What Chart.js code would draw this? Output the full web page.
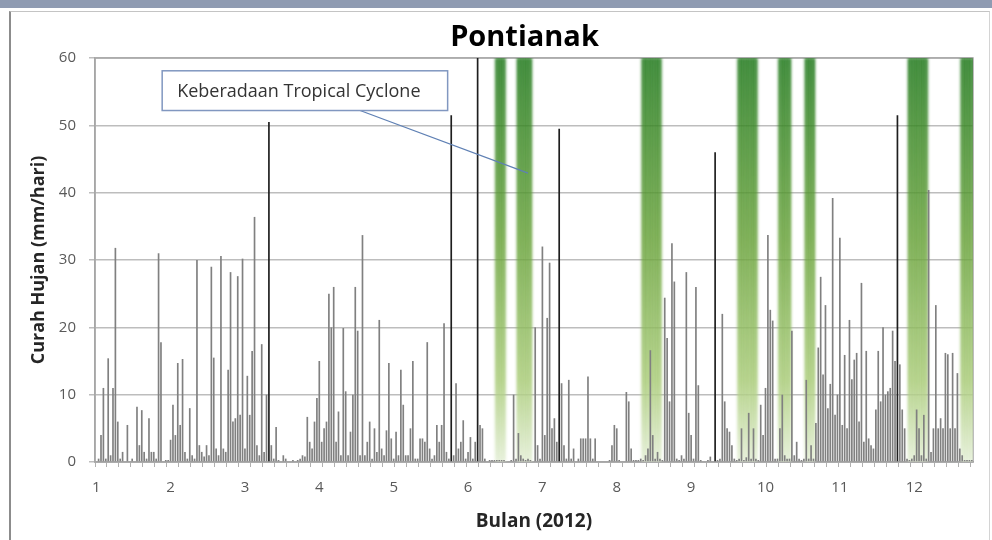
<!DOCTYPE html>
<html>
<head>
<meta charset="utf-8">
<title>Pontianak</title>
<script src="https://cdn.jsdelivr.net/npm/chart.js@4.4.1/dist/chart.umd.min.js"></script>
<style>
  html, body { margin: 0; padding: 0; background: #ffffff; }
  #wrap { position: relative; width: 992px; height: 540px; overflow: hidden; }
  #chart { position: absolute; left: 0; top: 0; }
  #topbar { position: absolute; left: 0; top: 0; width: 992px; height: 8px; background: #8f9bb2; }
  #frame { position: absolute; left: 9px; top: 11px; width: 978px; height: 540px;
           border-left: 2px solid #8c8c8c; border-top: 1px solid #c4c4c4; border-right: 1px solid #d4d4d4; }
</style>
</head>
<body>
<div id="wrap">
  <canvas id="chart" width="992" height="540"></canvas>
  <div id="topbar"></div>
  <div id="frame"></div>
</div>
<script>
// Daily rainfall at Pontianak for 2012 (mm/day), one value per day, 1 Jan .. 31 Dec
const rainfall = [
  // days 0-30
  0, 0.5, 4, 11, 0.5, 15.4, 1, 11, 31.8, 6, 0.5, 1.5, 0, 5.5, 0, 0.5, 0, 8.2, 2.5, 7.7,
  1.5, 0.5, 6.5, 1.5, 1.5, 0.5, 31, 17.8, 0, 0.3, 0.3,
  // days 31-61
  3.3, 8.5, 4, 14.7, 5.5, 15.3, 1.5, 0.5, 8, 1, 0.5, 30, 2.5, 1.5, 0.8, 2.5, 1, 29, 15.5, 2,
  1, 30.6, 2, 1.5, 13.7, 28.2, 6, 6.5, 27.6, 7, 30.2,
  // days 62-92
  2, 12.8, 7, 16.5, 36.4, 2.5, 1, 17.5, 1.5, 10, 50.5, 2.5, 0.5, 5.2, 0.3, 0, 1, 0.5, 0, 0,
  0.3, 0, 0.3, 0.5, 1, 0.8, 6.7, 3, 2, 6, 9.5,
  // days 93-123
  15, 3, 5, 6, 25, 20, 26, 3, 7.5, 1, 19.9, 10.5, 1, 4.5, 10, 26, 19.5, 1, 33.7, 1,
  3, 6, 0.5, 5, 1.5, 21.1, 2, 1, 4.7, 14.7, 3.5,
  // days 124-154
  0.5, 4.5, 1, 13.7, 8.5, 1, 1, 5, 15, 0.5, 0.5, 3.5, 3.5, 3, 17.8, 2, 0.5, 1, 5.5, 3,
  5.5, 20.6, 1.5, 0.5, 51.5, 1, 11.7, 2, 3, 6.2, 0.5,
  // days 155-185
  1.5, 3.7, 0.5, 3, 60, 5.5, 5, 0.5, 0, 0.3, 0.3, 0.3, 0.3, 0.3, 0.3, 0.3, 0, 0, 0.3, 10,
  0.5, 4.3, 1, 0.5, 0.3, 0.5, 0.3, 0, 20, 2.5, 0.5,
  // days 186-216
  32, 4, 21.4, 29.6, 5, 6.5, 3, 49.5, 11.7, 2.5, 0.5, 12.2, 0.5, 2, 0, 0.5, 3.5, 3.5, 3.5, 12.7,
  3.5, 0.5, 3.5, 0, 0, 0, 0, 0, 0.3, 2.5, 5.5,
  // days 217-247
  5, 0.3, 0, 0, 10.4, 9, 2, 0.3, 0.3, 0.3, 0.5, 0.3, 1, 2, 16.6, 4, 0.5, 1.5, 0.5, 0.3,
  24.4, 18.4, 9, 32.5, 26.8, 0.5, 0.3, 1, 0.5, 28.2, 7.3,
  // days 248-278
  4, 0.5, 26, 11.4, 0.3, 0, 0, 0.3, 0.8, 0, 46, 0.3, 0.5, 22, 9, 5, 4.5, 2.5, 0.5, 0.3,
  0.5, 5, 0.3, 0.7, 7.3, 0.5, 5, 0.5, 0.3, 8.5, 4,
  // days 279-309
  11, 33.7, 22.6, 21, 0.5, 0.5, 5, 10, 1, 0.5, 0.5, 19.5, 1, 3, 0.5, 0.3, 0.5, 12.2, 0.5, 2.5,
  0.5, 5.8, 17, 27.5, 13, 23.3, 8, 11.6, 39.2, 7, 10,
  // days 310-340
  33.3, 5.5, 15.9, 5, 21.1, 12.3, 15.2, 16.2, 6, 26.6, 3, 16.5, 3.5, 2.5, 2, 7.8, 16.5, 9, 20, 10,
  10.5, 11, 19.5, 15, 51.5, 14.5, 7.8, 5, 0.5, 0.3, 0.5,
  // days 341-365
  1, 7.8, 5, 1, 7, 0.5, 40.4, 1.5, 5, 23.3, 5, 6.5, 5, 16.2, 16, 5, 16.2, 5, 13.2, 2,
  1, 0.3, 0.3, 0.3, 0.3
];

// Periods (first day, last day, zero-based day of year) with a tropical cyclone present
const cycloneStart = [167, 176, 228, 268, 285, 296, 339, 361];
const cycloneEnd   = [170, 181, 235, 275, 289, 299, 346, 365];

// Month numbers printed along the time axis, one every 31 days
const monthTicks = ['1', '2', '3', '4', '5', '6', '7', '8', '9', '10', '11', '12'];
const tickEvery = 31;

const dayLabels = rainfall.map((_, i) => String(i + 1));
const cyclone = rainfall.map((_, i) => {
  for (let k = 0; k < cycloneStart.length; k++) {
    if (i >= cycloneStart[k] && i <= cycloneEnd[k]) return 60;
  }
  return null;
});

const FONT = "'Open Sans', 'DejaVu Sans', sans-serif";

// centre the title over the plot rather than over the whole canvas
const titleOverPlot = {
  id: 'titleOverPlot',
  afterLayout(chart) {
    const t = chart.titleBlock;
    if (t) { t.left = 76; t.right = chart.chartArea.right; }
  }
};

// soft edges for the cyclone bands
const bandSoften = {
  id: 'bandSoften',
  beforeDatasetDraw(chart, args) {
    if (args.index === 1) { chart.ctx.save(); chart.ctx.filter = 'blur(1.6px)'; }
  },
  afterDatasetDraw(chart, args) {
    if (args.index === 1) { chart.ctx.restore(); }
  }
};

// thin frame round the plot area
const plotFrame = {
  id: 'plotFrame',
  beforeDatasetsDraw(chart) {
    const { ctx, chartArea: a } = chart;
    ctx.save();
    ctx.strokeStyle = '#a6a6a6';
    ctx.lineWidth = 1.5;
    ctx.strokeRect(a.left, a.top, a.right - a.left, a.bottom - a.top);
    ctx.restore();
  }
};

// labelled call-out pointing at a cyclone band
const callout = {
  id: 'callout',
  afterDatasetsDraw(chart, args, opts) {
    const { ctx, scales: { x, y } } = chart;
    const half = (x.getPixelForValue(1) - x.getPixelForValue(0)) / 2;
    const left = x.getPixelForValue(opts.box[0]) - half;
    const right = x.getPixelForValue(opts.box[1]) + half;
    const top = y.getPixelForValue(opts.box[2]);
    const bottom = y.getPixelForValue(opts.box[3]);
    ctx.save();
    ctx.strokeStyle = '#5f80b4';
    ctx.lineWidth = 1.2;
    ctx.beginPath();
    ctx.moveTo(x.getPixelForValue(opts.from[0]), y.getPixelForValue(opts.from[1]));
    ctx.lineTo(x.getPixelForValue(opts.to[0]), y.getPixelForValue(opts.to[1]));
    ctx.stroke();
    ctx.fillStyle = '#ffffff';
    ctx.fillRect(left, top, right - left, bottom - top);
    ctx.strokeStyle = '#8197c0';
    ctx.lineWidth = 1.5;
    ctx.strokeRect(left, top, right - left, bottom - top);
    ctx.fillStyle = '#333333';
    ctx.font = "18px " + FONT;
    ctx.textBaseline = 'middle';
    ctx.fillText(opts.text, left + 15, (top + bottom) / 2 + 1);
    ctx.restore();
  }
};

new Chart(document.getElementById('chart'), {
  type: 'bar',
  data: {
    labels: dayLabels,
    datasets: [
      {
        label: 'Curah Hujan',
        data: rainfall,
        order: 0,
        grouped: false,
        barPercentage: 0.7,
        categoryPercentage: 1,
        backgroundColor: (c) => (c.raw >= 45 ? '#1e1e1e' : '#808080'),
        borderWidth: 0
      },
      {
        label: 'Tropical Cyclone',
        data: cyclone,
        order: 1,
        grouped: false,
        barPercentage: 1,
        categoryPercentage: 1,
        borderWidth: 0,
        borderRadius: 4,
        borderSkipped: 'bottom',
        backgroundColor: (c) => {
          const a = c.chart.chartArea;
          if (!a) return '#6fa640';
          const g = c.chart.ctx.createLinearGradient(0, a.top, 0, a.bottom);
          g.addColorStop(0, '#1f781a');
          g.addColorStop(0.45, '#68a23a');
          g.addColorStop(0.8, '#a9cb78');
          g.addColorStop(1, '#e3eed5');
          return g;
        }
      }
    ]
  },
  options: {
    responsive: false,
    animation: false,
    layout: { padding: { left: 20, right: 19, top: 0, bottom: 0 } },
    plugins: {
      legend: { display: false },
      tooltip: { enabled: false },
      title: {
        display: true,
        text: 'Pontianak',
        color: '#000000',
        font: { family: FONT, size: 29, weight: 'bold' },
        padding: { top: 20.5, bottom: 2.7 }
      },
      callout: {
        text: 'Keberadaan Tropical Cyclone',
        box: [28, 146, 58.1, 52.2],
        from: [110, 52.2],
        to: [180, 42.9]
      }
    },
    scales: {
      x: {
        offset: true,
        afterFit: (s) => { s.height = 78; },
        grid: {
          drawOnChartArea: false,
          tickLength: 5,
          tickColor: (c) => (c.index % 5 === 0 ? '#b0b0b0' : 'rgba(0,0,0,0)')
        },
        border: { display: true, color: '#a6a6a6', width: 1.5 },
        ticks: {
          autoSkip: false,
          maxRotation: 0,
          padding: 12,
          color: '#595959',
          font: { family: FONT, size: 15 },
          callback: (v, i) => (i % tickEvery === 0 ? monthTicks[i / tickEvery] : '')
        },
        title: {
          display: true,
          text: 'Bulan (2012)',
          color: '#262626',
          font: { family: FONT, size: 19, weight: 'bold' },
          padding: { top: 0, bottom: 7 }
        }
      },
      y: {
        min: 0,
        max: 60,
        afterFit: (s) => { s.width = 75; },
        grid: { color: '#bdbdbd', lineWidth: 1.5, tickLength: 6 },
        border: { display: true, color: '#a6a6a6', width: 1.5 },
        ticks: {
          stepSize: 10,
          padding: 13,
          color: '#595959',
          font: { family: FONT, size: 15 }
        },
        title: {
          display: true,
          text: 'Curah Hujan (mm/hari)',
          color: '#262626',
          font: { family: FONT, size: 18, weight: 'bold' },
          padding: { top: 8, bottom: 0 }
        }
      }
    }
  },
  plugins: [titleOverPlot, bandSoften, plotFrame, callout]
});
</script>
</body>
</html>
